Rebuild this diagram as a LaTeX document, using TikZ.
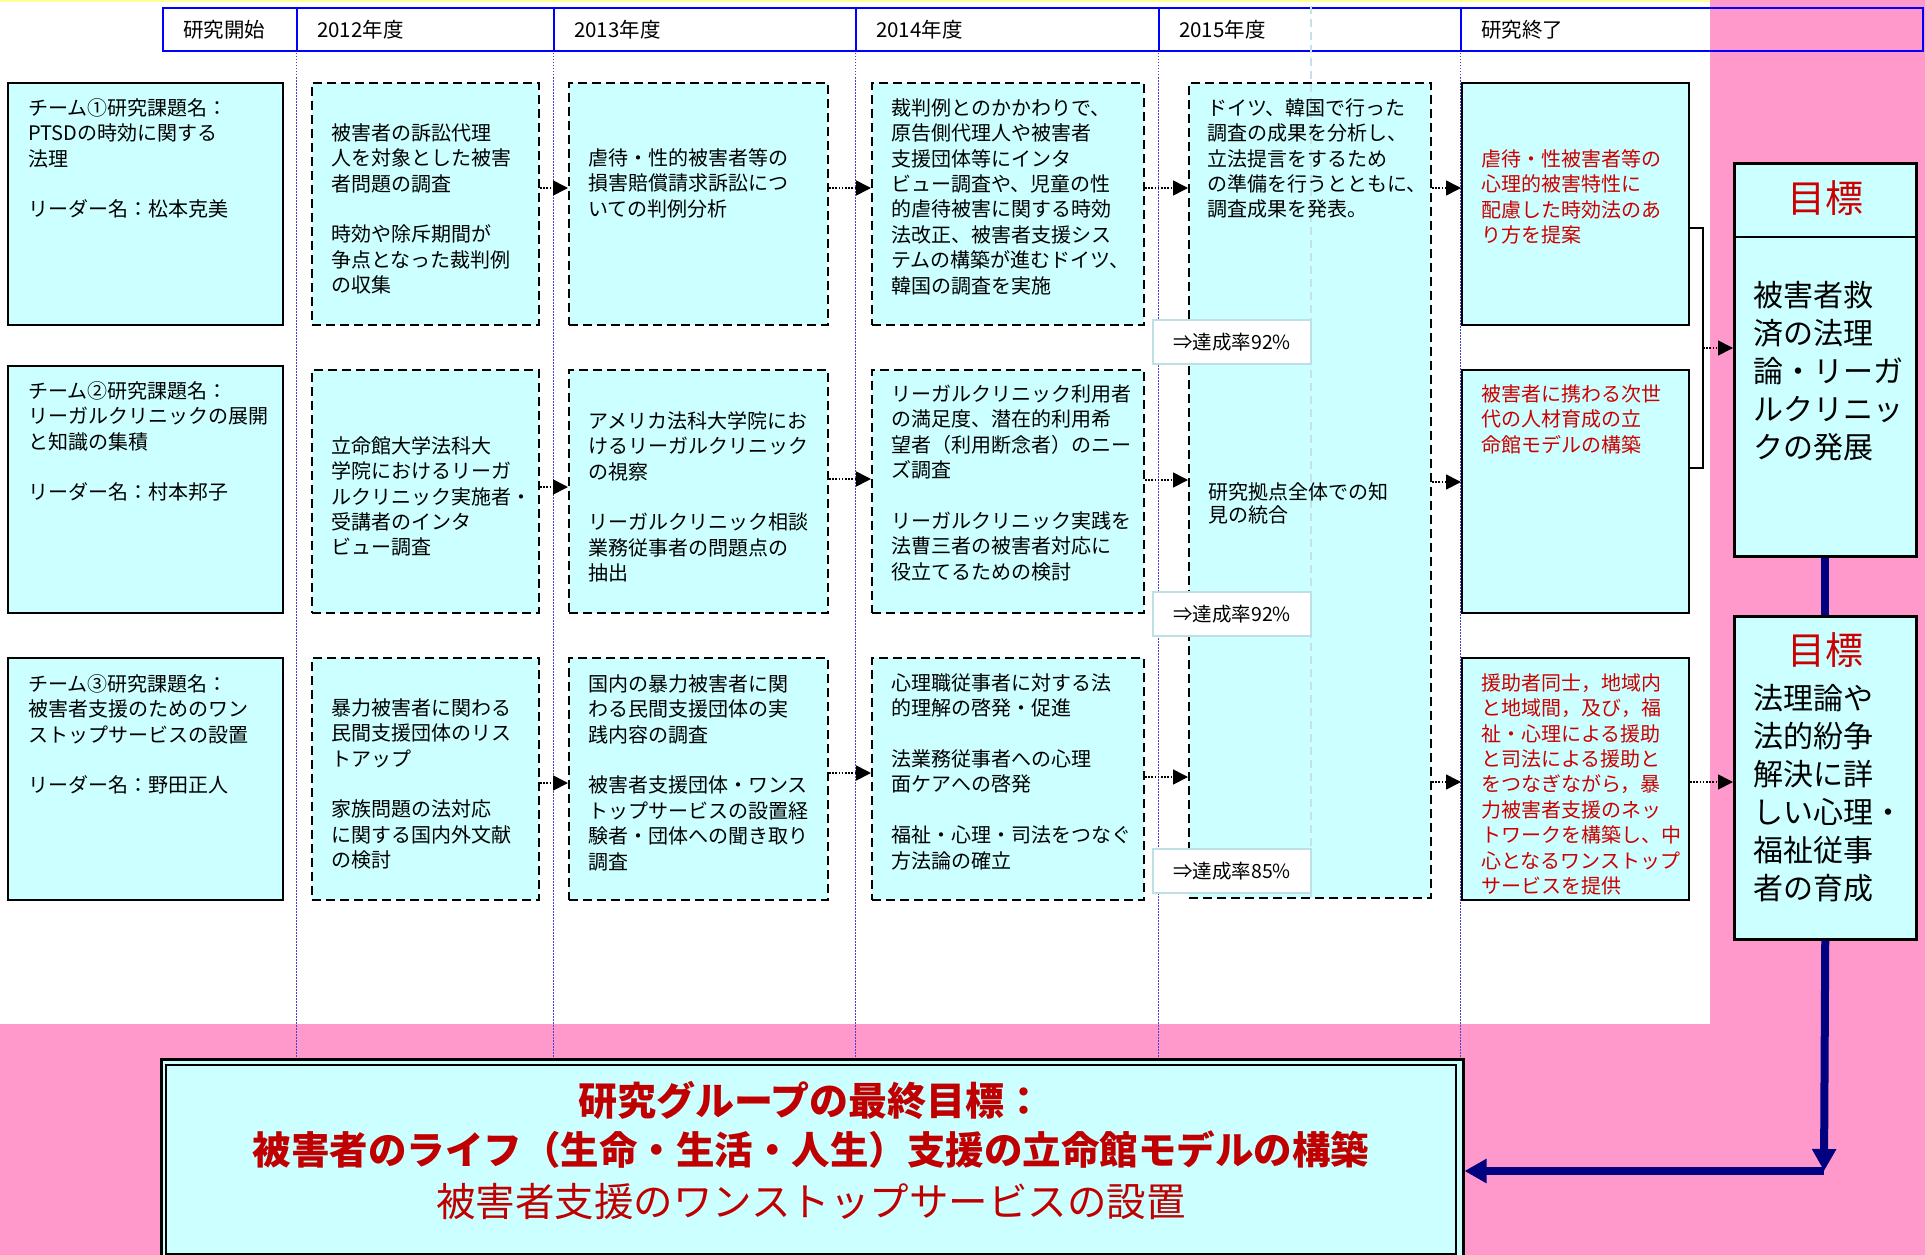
\documentclass[tikz,border=0pt]{standalone}
\usepackage{fontspec}
\setmainfont{Noto Sans CJK JP}
\usetikzlibrary{arrows.meta}
\definecolor{cyanfill}{HTML}{CCFFFF}
\definecolor{pinkbg}{HTML}{FF99CC}
\definecolor{hdrblue}{HTML}{0000FF}
\definecolor{sepblue}{HTML}{4444CC}
\definecolor{txtred}{HTML}{CC0000}
\definecolor{darkred}{HTML}{C00000}
\definecolor{navyc}{HTML}{000080}
\definecolor{achv}{HTML}{BFDFE6}
\definecolor{lightdash}{HTML}{C4E2E6}
\definecolor{topyellow}{HTML}{FFFF99}
\begin{document}
\begin{tikzpicture}[x=1pt,y=-1pt,
  box/.style={anchor=north west, inner sep=0pt, fill=cyanfill},
  solidbox/.style={box, draw=black, line width=2.2pt},
  dashbox/.style={box, draw=black, line width=2pt, dash pattern=on 9pt off 5pt},
  txt/.style={anchor=north west, inner sep=0pt, align=left, font={\fontsize{20}{25.4}\selectfont}},
  redtext/.style={txt, text=txtred},
  hcell/.style={anchor=north west, draw=hdrblue, line width=2.2pt, minimum height=43pt, inner ysep=0pt, inner xsep=20pt, align=left, font={\fontsize{20.5}{22}\selectfont}},
  dotarrow/.style={draw=black, line width=1.6pt, dash pattern=on 1.6pt off 1.6pt, -{Triangle[length=15pt,width=15pt]}},
  sepline/.style={draw=sepblue, line width=1pt, dash pattern=on 1.5pt off 1.5pt},
  ach/.style={anchor=north west, draw=achv, line width=2pt, fill=white, minimum width=158pt, minimum height=44pt, inner sep=0pt, font={\fontsize{19.5}{22}\selectfont}},
  goalbox/.style={box, draw=black, line width=2.5pt, minimum width=182pt},
  goalhead/.style={font={\fontsize{38}{44}\selectfont}, text=txtred, inner sep=0pt},
  goaltxt/.style={anchor=north west, inner sep=0pt, align=left, font={\fontsize{30}{38}\selectfont}},
  navyline/.style={draw=navyc, line width=8pt},
  finline/.style={font={\fontsize{39.5}{44}\selectfont}, text=darkred, inner sep=0pt}
]
\useasboundingbox (0,0) rectangle (1925,1255);
\fill[white] (0,0) rectangle (1925,1255);
\fill[pinkbg] (1710,0) rectangle (1925,1024);
\fill[pinkbg] (0,1024) rectangle (1925,1255);
\fill[topyellow] (0,0) rectangle (1710,2.5);

% year separators
\foreach \x in {296,553,855,1158,1460} \draw[sepline] (\x,50) -- (\x,1058);

% header
\node[hcell, text width=94pt, fill=white] (h0) at (162,7) {研究開始};
\node[hcell, text width=217pt, fill=white] (h1) at (296,7) {2012年度};
\node[hcell, text width=262pt, fill=white] (h2) at (553,7) {2013年度};
\node[hcell, text width=263pt, fill=white] (h3) at (855,7) {2014年度};
\node[hcell, text width=262pt, fill=white] (h4) at (1158,7) {2015年度};
\node[hcell, text width=422pt] (h5) at (1460,7) {研究終了};

% team boxes
\node[solidbox, minimum width=275pt, minimum height=242pt] (t1) at (7,82) {};
\node[solidbox, minimum width=275pt, minimum height=247pt] (t2) at (7,365) {};
\node[solidbox, minimum width=275pt, minimum height=242pt] (t3) at (7,657) {};
\node[txt] (t1x) at (28,97) {\rule{0pt}{0.9em}チーム①研究課題名：\\PTSDの時効に関する\\法理\\[25.4pt]リーダー名：松本克美};
\node[txt] (t2x) at (28,380) {\rule{0pt}{0.9em}チーム②研究課題名：\\リーガルクリニックの展開\\と知識の集積\\[25.4pt]リーダー名：村本邦子};
\node[txt] (t3x) at (28,673) {\rule{0pt}{0.9em}チーム③研究課題名：\\被害者支援のためのワン\\ストップサービスの設置\\[25.4pt]リーダー名：野田正人};

% 2012
\node[dashbox, minimum width=227pt, minimum height=242pt] (a1) at (311,82) {};
\node[dashbox, minimum width=227pt, minimum height=243pt] (a2) at (311,369) {};
\node[dashbox, minimum width=227pt, minimum height=242pt] (a3) at (311,657) {};
\node[txt] (a1x) at (331,122) {\rule{0pt}{0.9em}被害者の訴訟代理\\人を対象とした被害\\者問題の調査\\[25.4pt]時効や除斥期間が\\争点となった裁判例\\の収集};
\node[txt] (a2x) at (331,435) {\rule{0pt}{0.9em}立命館大学法科大\\学院におけるリーガ\\ルクリニック実施者・\\受講者のインタ\\ビュー調査};
\node[txt] (a3x) at (331,697) {\rule{0pt}{0.9em}暴力被害者に関わる\\民間支援団体のリス\\トアップ\\[25.4pt]家族問題の法対応\\に関する国内外文献\\の検討};

% 2013
\node[dashbox, minimum width=259pt, minimum height=242pt] (b1) at (568,82) {};
\node[dashbox, minimum width=259pt, minimum height=243pt] (b2) at (568,369) {};
\node[dashbox, minimum width=259pt, minimum height=242pt] (b3) at (568,657) {};
\node[txt] (b1x) at (588,147) {\rule{0pt}{0.9em}虐待・性的被害者等の\\損害賠償請求訴訟につ\\いての判例分析};
\node[txt] (b2x) at (588,410) {\rule{0pt}{0.9em}アメリカ法科大学院にお\\けるリーガルクリニック\\の視察\\[25.4pt]リーガルクリニック相談\\業務従事者の問題点の\\抽出};
\node[txt] (b3x) at (588,673) {\rule{0pt}{0.9em}国内の暴力被害者に関\\わる民間支援団体の実\\践内容の調査\\[25.4pt]被害者支援団体・ワンス\\トップサービスの設置経\\験者・団体への聞き取り\\調査};

% 2014
\node[dashbox, minimum width=272pt, minimum height=242pt] (c1) at (871,82) {};
\node[dashbox, minimum width=272pt, minimum height=243pt] (c2) at (871,369) {};
\node[dashbox, minimum width=272pt, minimum height=242pt] (c3) at (871,657) {};
\node[txt] (c1x) at (891,97) {\rule{0pt}{0.9em}裁判例とのかかわりで、\\原告側代理人や被害者\\支援団体等にインタ\\ビュー調査や、児童の性\\的虐待被害に関する時効\\法改正、被害者支援シス\\テムの構築が進むドイツ、\\韓国の調査を実施};
\node[txt] (c2x) at (891,383) {\rule{0pt}{0.9em}リーガルクリニック利用者\\の満足度、潜在的利用希\\望者（利用断念者）のニー\\ズ調査\\[25.4pt]リーガルクリニック実践を\\法曹三者の被害者対応に\\役立てるための検討};
\node[txt] (c3x) at (891,672) {\rule{0pt}{0.9em}心理職従事者に対する法\\的理解の啓発・促進\\[25.4pt]法業務従事者への心理\\面ケアへの啓発\\[25.4pt]福祉・心理・司法をつなぐ\\方法論の確立};

% 2015
\node[dashbox, minimum width=242pt, minimum height=815pt] (d) at (1188,82) {};
\draw[draw=lightdash, line width=1.5pt, dash pattern=on 8pt off 5pt] (1311,6) -- (1311,897);
\node[txt] (dx1) at (1207,97) {\rule{0pt}{0.9em}ドイツ、韓国で行った\\調査の成果を分析し、\\立法提言をするため\\の準備を行うとともに、\\調査成果を発表。};
\node[txt, font={\fontsize{20}{23}\selectfont}] (dx2) at (1208,481) {\rule{0pt}{0.9em}研究拠点全体での知\\見の統合};

% end boxes
\node[solidbox, line width=2pt, minimum width=227pt, minimum height=242pt] (e1) at (1461,82) {};
\node[solidbox, line width=2pt, minimum width=227pt, minimum height=243pt] (e2) at (1461,369) {};
\node[solidbox, line width=2pt, minimum width=227pt, minimum height=242pt] (e3) at (1461,657) {};
\node[redtext] (e1x) at (1481,148) {\rule{0pt}{0.9em}虐待・性被害者等の\\心理的被害特性に\\配慮した時効法のあ\\り方を提案};
\node[redtext] (e2x) at (1481,383) {\rule{0pt}{0.9em}被害者に携わる次世\\代の人材育成の立\\命館モデルの構築};
\node[redtext] (e3x) at (1481,672) {\rule{0pt}{0.9em}援助者同士，地域内\\と地域間，及び，福\\祉・心理による援助\\と司法による援助と\\をつなぎながら，暴\\力被害者支援のネッ\\トワークを構築し、中\\心となるワンストップ\\サービスを提供};

% arrows row 1
\draw[dotarrow] (a1.east |- 0,188) -- (b1.west |- 0,188);
\draw[dotarrow] (b1.east |- 0,188) -- (c1.west |- 0,188);
\draw[dotarrow] (c1.east |- 0,188) -- (d.west |- 0,188);
\draw[dotarrow] (d.east |- 0,188) -- (e1.west |- 0,188);
% row 2
\draw[dotarrow] (a2.east |- 0,487) -- (b2.west |- 0,487);
\draw[dotarrow] (b2.east |- 0,479) -- (c2.west |- 0,479);
\draw[dotarrow] (c2.east |- 0,480) -- (d.west |- 0,480);
\draw[dotarrow] (d.east |- 0,482) -- (e2.west |- 0,482);
% row 3
\draw[dotarrow] (a3.east |- 0,783) -- (b3.west |- 0,783);
\draw[dotarrow] (b3.east |- 0,773) -- (c3.west |- 0,773);
\draw[dotarrow] (c3.east |- 0,777) -- (d.west |- 0,777);
\draw[dotarrow] (d.east |- 0,782) -- (e3.west |- 0,782);

% achievement boxes
\node[ach] (k1) at (1152,319) {⇒達成率92\%};
\node[ach] (k2) at (1152,591) {⇒達成率92\%};
\node[ach] (k3) at (1152,848) {⇒達成率85\%};

% goals
\node[goalbox, minimum height=393pt] (g1) at (1733,162) {};
\draw[line width=2.5pt] (g1.north west) ++(0,75) -- ++(182,0);
\node[goalhead] (g1h) at (1825,198) {目標};
\node[goaltxt] (g1x) at (1753,279) {\rule{0pt}{0.9em}被害者救\\済の法理\\論・リーガ\\ルクリニッ\\クの発展};
\node[goalbox, minimum height=323pt] (g2) at (1733,615) {};
\node[goalhead] (g2h) at (1825,650) {目標};
\node[goaltxt] (g2x) at (1753,682) {\rule{0pt}{0.9em}法理論や\\法的紛争\\解決に詳\\しい心理・\\福祉従事\\者の育成};

% bracket to goal 1
\draw[line width=1.8pt] (e1.east |- 0,228) -- (1703,228) -- (1703,468) -- (e2.east |- 0,468);
\coordinate (br) at (1703,348);
\draw[dotarrow] (br) -- (g1.west |- br);
\draw[dotarrow] (e3.east |- 0,782) -- (g2.west |- 0,782);

% final box
\node[anchor=north west, draw=black, line width=2.5pt, fill=cyanfill, minimum width=1302pt, minimum height=204pt, inner sep=0pt] (fin) at (160,1058) {};
\draw[line width=2.3pt] (166,1065) rectangle (1456,1254);
\node[finline, font={\fontsize{39}{44}\selectfont\bfseries}] (f1) at (811,1100) {研究グループの最終目標：};
\node[finline, font={\fontsize{38.5}{44}\selectfont\bfseries}] (f2) at (811,1150) {被害者のライフ（生命・生活・人生）支援の立命館モデルの構築};
\node[finline] (f3) at (811,1202) {被害者支援のワンストップサービスの設置};

% navy connectors
\draw[navyline] (g1.south) -- (g2.north);
\coordinate (corner) at (1824,1171);
\draw[navyline, -{Triangle[length=22pt,width=23pt]}] (g2.south) -- (corner);
\draw[navyline, -{Triangle[length=22pt,width=23pt]}] (corner) -- (fin.east |- corner);
\end{tikzpicture}
\end{document}
